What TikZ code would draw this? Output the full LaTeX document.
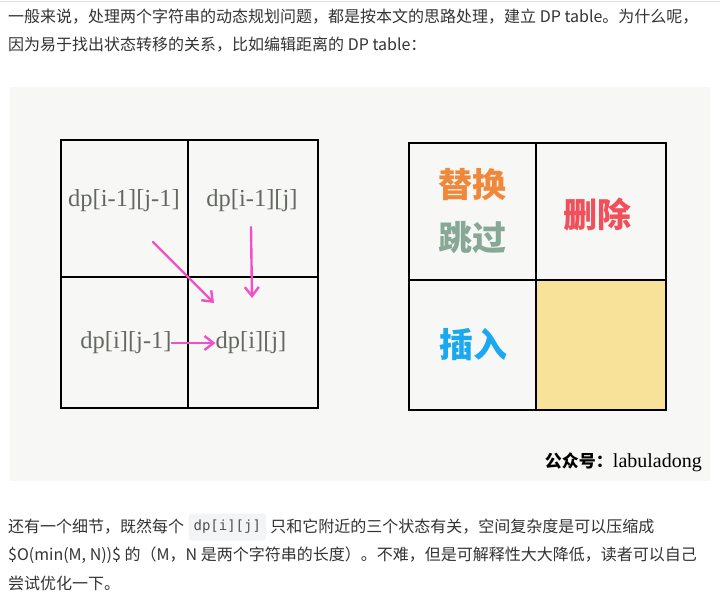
\documentclass[tikz,border=0pt]{standalone}
\usepackage{fontspec}
\usepackage{tikz}
\usetikzlibrary{arrows.meta,positioning}
\newfontfamily\cjk{Noto Sans CJK SC}
\newfontfamily\labfont{Liberation Serif}
\setmonofont{DejaVu Sans Mono}
\definecolor{txtc}{HTML}{333333}
\definecolor{paperc}{HTML}{F7F7F5}
\definecolor{labc}{HTML}{656861}
\definecolor{pinkc}{HTML}{F050C8}
\definecolor{orgc}{HTML}{F0883A}
\definecolor{sagec}{HTML}{87A896}
\definecolor{redc}{HTML}{F0505A}
\definecolor{bluec}{HTML}{1AA8F0}
\definecolor{yelc}{HTML}{F8E29A}
\definecolor{codebg}{HTML}{F3F4F6}
\tikzset{
  para/.style={anchor=west,inner sep=0pt,font=\cjk\fontsize{16}{20}\selectfont,text=txtc},
  cell/.style={font=\labfont\fontsize{24.5}{28}\selectfont,text=labc,inner sep=0pt},
  op/.style={font=\cjk\bfseries\fontsize{34}{40}\selectfont,inner sep=0pt},
  gline/.style={line width=2pt,black},
  ar/.style={-{Straight Barb[length=9pt,width=14pt,line width=2.4pt]},line width=2.4pt,pinkc,line cap=round}
}
\begin{document}
\begin{tikzpicture}[x=1pt,y=-1pt]
\useasboundingbox (0,0) rectangle (720,602);
\fill[white] (0,0) rectangle (720,602);
\draw[gray!25] (0,1)--(720,1);
% text above the picture
\node[para] (p1) at (8,17) {一般来说，处理两个字符串的动态规划问题，都是按本文的思路处理，建立 DP table。为什么呢，};
\node[para] (p2) at (8,45) {因为易于找出状态转移的关系，比如编辑距离的 DP table：};
% the picture
\fill[paperc] (10,87) rectangle (710,481);
% left table
\draw[gline] (61,140) rectangle (318,408);
\draw[gline] (188,140)--(188,408) (61,277)--(318,277);
\node[cell] (ul) at (124,201) {dp[i-1][j-1]};
\node[cell] (ur) at (252,201) {dp[i-1][j]};
\node[cell] (dl) at (126,343) {dp[i][j-1]};
\node[cell] (dr) at (251,343) {dp[i][j]};
\coordinate (d0) at (153,242);
\coordinate (d1) at (214,303);
\coordinate (v0) at (251,227);
\coordinate (v1) at (252,298);
\draw[ar] (d0)--(d1);
\draw[ar] (v0)--(v1);
\draw[ar] (dl.east)--(dr.west);
% right table
\fill[yelc] (536,280) rectangle (666,410);
\draw[gline] (409,143) rectangle (666,410);
\draw[gline] (536,143)--(536,410) (409,280)--(666,280);
\node[op,text=orgc] (ti) at (472,185) {替换};
\node[op,text=sagec] (tg) at (472,238) {跳过};
\node[op,text=redc] (sc) at (597,215) {删除};
\node[op,text=bluec] (cr) at (473,345) {插入};
\node[anchor=east,inner sep=0pt,text=black] (wm) at (702,462)
  {{\cjk\bfseries\fontsize{17}{20}\selectfont 公众号：}{\labfont\fontsize{20}{22}\selectfont labuladong}};
% text below the picture
\node[para] (q1) at (8,527) {还有一个细节，既然每个};
\node[para,right=4pt of q1,fill=codebg,rounded corners=3pt,inner xsep=5pt,minimum height=27pt,
  font=\ttfamily\fontsize{14}{16}\selectfont,text=txtc!85] (code) {dp[i][j]};
\node[para,right=4pt of code] (q2) {只和它附近的三个状态有关，空间复杂度是可以压缩成};
\node[para] (q3) at (8,555) {\$O(min(M, N))\$ 的（M，N 是两个字符串的长度）。不难，但是可解释性大大降低，读者可以自己};
\node[para] (q4) at (8,583) {尝试优化一下。};
\end{tikzpicture}
\end{document}
